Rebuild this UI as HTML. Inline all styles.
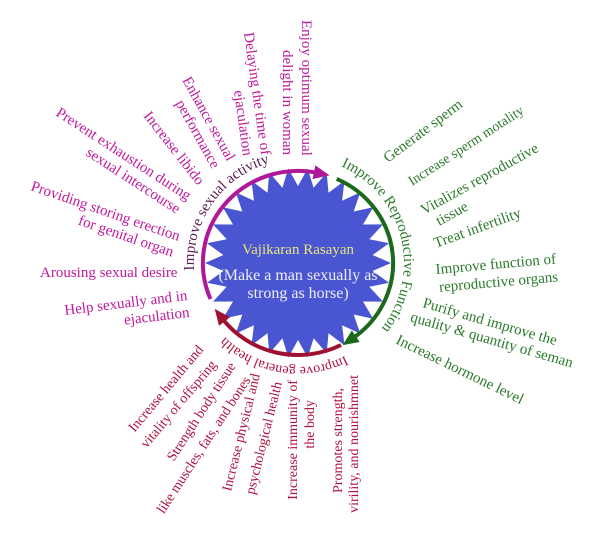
<!DOCTYPE html>
<html><head><meta charset="utf-8"><style>
html,body{margin:0;padding:0;background:#fff;}
svg{display:block;font-family:"Liberation Serif",serif;font-size:15px;}
.m{fill:#c0199c}.g{fill:#2a7a2a}.r{fill:#b0103c}
</style></head><body>
<svg width="600" height="540" viewBox="0 0 600 540" xmlns="http://www.w3.org/2000/svg">
<defs>
<marker id="am" markerUnits="userSpaceOnUse" markerWidth="16" markerHeight="16" refX="4" refY="8" orient="auto"><path d="M0,1 L16,8 L0,15 z" fill="#b0189a"/></marker>
<marker id="ag" markerUnits="userSpaceOnUse" markerWidth="16" markerHeight="16" refX="4" refY="8" orient="auto"><path d="M0,1 L16,8 L0,15 z" fill="#1a6a1a"/></marker>
<marker id="ar" markerUnits="userSpaceOnUse" markerWidth="16" markerHeight="16" refX="4" refY="8" orient="auto"><path d="M0,1 L16,8 L0,15 z" fill="#a01030"/></marker>
<path id="tps" d="M194.2,270.3 A104,104 0 0 1 283.5,160"/>
<path id="tpg" d="M341.1,166.2 A106,106 0 0 1 373,338"/>
<path id="tpr" d="M345.2,355.7 A104,104 0 0 1 212.8,322.7"/>
</defs>
<polygon id="star" fill="#4a55d2"/>
<path d="M210.5,299 A95,92 0 0 1 317.8,173" fill="none" stroke="#b0189a" stroke-width="4" marker-end="url(#am)"/>
<path d="M336.7,178.9 A95,92 0 0 1 352.5,338.4" fill="none" stroke="#1a6a1a" stroke-width="4" marker-end="url(#ag)"/>
<path d="M341,345 A95,92 0 0 1 222.1,318.4" fill="none" stroke="#a01030" stroke-width="4" marker-end="url(#ar)"/>
<text fill="#e6e67a" font-size="15" x="298" y="254" text-anchor="middle">Vajikaran Rasayan</text>
<text fill="#eeeefa" font-size="16" x="298" y="280" text-anchor="middle">(Make a man sexually as</text>
<text fill="#eeeefa" font-size="16" x="298" y="298" text-anchor="middle">strong as horse)</text>
<text fill="#5a1a4a"><textPath href="#tps">Improve sexual activity</textPath></text>
<text class="g"><textPath href="#tpg">Improve Reproductive Function</textPath></text>
<text class="r" font-size="14"><textPath href="#tpr">Improve general health</textPath></text>

<text class="m" transform="translate(302,20) rotate(90)"><tspan x="0">Enjoy optimum sexual</tspan><tspan x="30" dy="19">delight in woman</tspan></text>
<text class="m" transform="translate(244,33) rotate(82)"><tspan x="0">Delaying the time of</tspan><tspan x="56" dy="18">ejaculation</tspan></text>
<text class="m" transform="translate(182,80) rotate(61)"><tspan x="0">Enhance sexual</tspan><tspan x="17" dy="17">performance</tspan></text>
<text class="m" transform="translate(143,116) rotate(52)">Increase libido</text>
<text class="m" transform="translate(55,115) rotate(33)"><tspan x="0">Prevent exhaustion during</tspan><tspan x="47" dy="17">sexual intercourse</tspan></text>
<text class="m" transform="translate(30,190) rotate(19)"><tspan x="0">Providing storing erection</tspan><tspan x="56" dy="17">for genital organ</tspan></text>
<text class="m" x="40" y="277">Arousing sexual desire</text>
<text class="m" transform="translate(65,315) rotate(-7)"><tspan x="0">Help sexually and in</tspan><tspan x="58" dy="17">ejaculation</tspan></text>

<text class="g" transform="translate(388,163) rotate(-37)">Generate sperm</text>
<text class="g" font-size="14" transform="translate(412,186) rotate(-33)">Increase sperm motality</text>
<text class="g" transform="translate(424,215) rotate(-29)"><tspan x="0">Vitalizes reproductive</tspan><tspan x="8" dy="17">tissue</tspan></text>
<text class="g" transform="translate(436,248) rotate(-20)">Treat infertility</text>
<text class="g" transform="translate(436,274) rotate(-5)"><tspan x="0">Improve function of</tspan><tspan x="2" dy="18">reproductive organs</tspan></text>
<text class="g" transform="translate(422,307) rotate(16)"><tspan x="0">Purify and improve the</tspan><tspan x="-8" dy="17">quality &amp; quantity of seman</tspan></text>
<text class="g" transform="translate(395,343) rotate(26)">Increase hormone level</text>

<g class="r" text-anchor="end" font-size="14">
<text transform="translate(204,350) rotate(-50)">Increase health and</text>
<text transform="translate(217,365) rotate(-50)">vitality of offspring</text>
<text transform="translate(236,366) rotate(-57)">Strength body tissue</text>
<text transform="translate(251,380) rotate(-57)">like muscles, fats, and bones</text>
<text transform="translate(260,375) rotate(-76)">Increase physical and</text>
<text transform="translate(282,383) rotate(-76)">psychological health</text>
<text transform="translate(297,380) rotate(-90)">Increase immunity of</text>
<text transform="translate(314,400) rotate(-90)">the body</text>
<text transform="translate(342,388) rotate(-90)">Promotes strength,</text>
<text transform="translate(358,375) rotate(-90)">virility, and nourishmnet</text>
</g>
</svg>
<script>
(function(){var cx=298,cy=263,n=30,p=[];for(var i=0;i<2*n;i++){var a=Math.PI*i/n,o=i%2==0;var rx=o?93:75,ry=o?95:77;p.push((cx+rx*Math.cos(a)).toFixed(1)+","+(cy+ry*Math.sin(a)).toFixed(1));}document.getElementById("star").setAttribute("points",p.join(" "));})();
</script>
</body></html>
